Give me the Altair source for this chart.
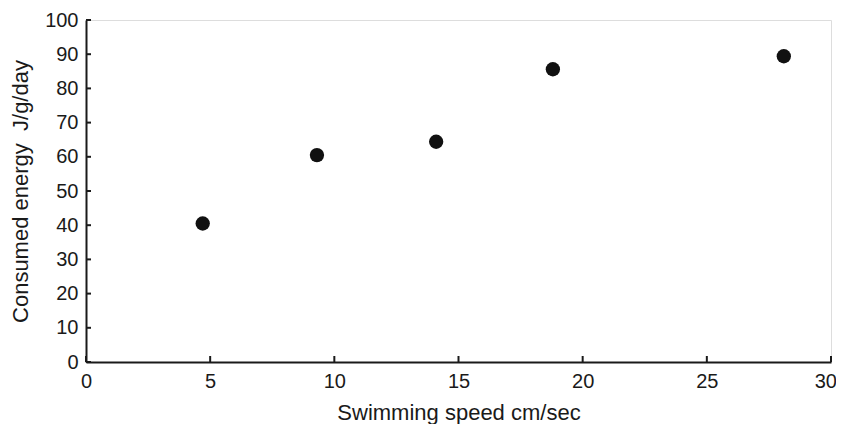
import altair as alt
import pandas as pd

speed = [4.7, 9.3, 14.1, 18.8, 28.1]
energy = [40.5, 60.5, 64.4, 85.6, 89.4]
x_ticks = [0, 5, 10, 15, 20, 25, 30]
y_ticks = [0, 10, 20, 30, 40, 50, 60, 70, 80, 90, 100]

W, H = 745, 342
FONT = "Liberation Sans"
INK = "#1a1a1a"

pts = pd.DataFrame({"speed": speed, "energy": energy})
xt = pd.DataFrame({"v": x_ticks})
yt = pd.DataFrame({"v": y_ticks})

xscale = alt.Scale(domain=[0, 30], nice=False, zero=True)
yscale = alt.Scale(domain=[0, 100], nice=False, zero=True)

common = dict(grid=False, ticks=False, tickSize=0, domainColor=INK, domainWidth=2,
              labelFont=FONT, labelFontSize=20, labelColor=INK,
              labelOverlap=False,
              titleFont=FONT, titleFontSize=22, titleFontWeight="normal",
              titleColor=INK)

xaxis = alt.Axis(values=x_ticks, title="Swimming speed cm/sec",
                 labelFlush=True, labelFlushOffset=5.5,
                 labelPadding=9, titlePadding=11, **common)
yaxis = alt.Axis(values=y_ticks, title="Consumed energy\u00a0\u00a0J/g/day",
                 labelFlush=False,
                 labelPadding=8, titlePadding=12, **common)

points = alt.Chart(pts).mark_circle(size=205, color="#111111", opacity=1).encode(
    x=alt.X("speed:Q", scale=xscale, axis=xaxis),
    y=alt.Y("energy:Q", scale=yscale, axis=yaxis),
)

xtick_layer = alt.Chart(xt).mark_rule(color=INK, strokeWidth=2).encode(
    x=alt.X("v:Q", scale=xscale, axis=xaxis),
    y=alt.value(H),
    y2=alt.value(H - 6),
)
ytick_layer = alt.Chart(yt).mark_rule(color=INK, strokeWidth=2).encode(
    y=alt.Y("v:Q", scale=yscale, axis=yaxis),
    x=alt.value(0),
    x2=alt.value(5),
)

chart = alt.layer(points, xtick_layer, ytick_layer).properties(
    width=W, height=H,
    autosize=alt.AutoSizeParams(type="none"),
    padding={"left": 78, "top": 12, "right": 5, "bottom": 62},
).configure_view(stroke=None).configure(background="white")

chart.save("out.html", embed_options={"renderer": "svg", "actions": False})
